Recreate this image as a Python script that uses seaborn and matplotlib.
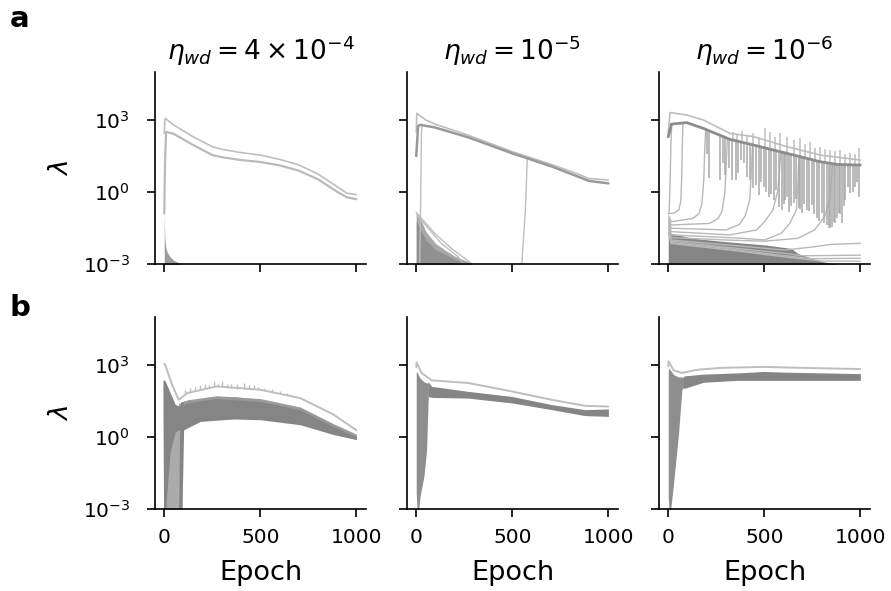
import numpy as np
import pandas as pd
import matplotlib
matplotlib.use('Agg')
import matplotlib.pyplot as plt
import seaborn as sns

# All values are log10(lambda)

# ---- row a, eta_wd = 4e-4 ----
a1_top_ep = [0, 3, 5, 50, 150, 250, 300, 400, 500, 600, 700, 800, 900, 950, 1000]
a1_top = [2.44, 3.0, 3.07, 2.79, 2.30, 1.89, 1.78, 1.64, 1.54, 1.36, 1.13, 0.75, 0.22, -0.05, -0.11]
a1_low_ep = [0, 5, 10, 50, 150, 250, 300, 400, 500, 600, 700, 800, 900, 950, 1000]
a1_low = [-0.9, 1.5, 2.51, 2.42, 1.96, 1.54, 1.45, 1.33, 1.25, 1.11, 0.89, 0.53, 0.01, -0.22, -0.30]
a1_band_ep = [0, 3, 8, 15, 30, 50, 75, 100]
a1_band_hi = [-0.95, -1.9, -2.3, -2.5, -2.7, -2.85, -2.95, -3.05]

# ---- row a, eta_wd = 1e-5 ----
a2_top_ep = [0, 3, 50, 97, 270, 500, 710, 832, 900, 1000]
a2_top = [2.5, 3.28, 3.0, 2.83, 2.37, 1.68, 1.13, 0.78, 0.56, 0.50]
a2_mid_ep = [0, 10, 20, 97, 270, 500, 580, 710, 832, 900, 1000]
a2_mid = [1.5, 2.75, 2.8, 2.69, 2.28, 1.61, 1.40, 1.05, 0.67, 0.46, 0.36]
a2_rise1_ep = [18, 22, 25, 27, 30]
a2_rise1 = [-3.1, -1.0, 1.0, 2.4, 2.78]
a2_rise2_ep = [549, 560, 568, 574, 578]
a2_rise2 = [-3.1, -1.7, -0.75, 0.5, 1.40]
a2_fan1_ep = [0, 96, 183, 270, 300]
a2_fan1 = [-0.85, -1.72, -2.35, -2.87, -3.05]
a2_fan2_ep = [3, 26, 130, 217, 250]
a2_fan2 = [-0.95, -1.17, -2.14, -2.69, -3.05]
a2_band_ep = [0, 25, 50, 100, 150, 200, 270, 300]
a2_band_hi = [-0.9, -1.17, -1.65, -2.14, -2.42, -2.67, -2.9, -3.05]
a2_core_hi = [-1.2, -1.6, -2.0, -2.4, -2.6, -2.8, -2.97, -3.05]

# ---- row a, eta_wd = 1e-6 ----
a3_top_ep = [0, 9, 96, 183, 322, 443, 617, 791, 1000]
a3_top = [2.44, 3.31, 3.21, 3.0, 2.44, 2.31, 1.89, 1.54, 1.33]
a3_main_ep = [0, 17, 96, 183, 322, 443, 617, 791, 878, 1000]
a3_main = [2.3, 2.83, 2.89, 2.65, 2.19, 1.96, 1.61, 1.26, 1.15, 1.12]
a3_band_ep = [0, 3, 15, 128, 302, 510, 640, 675, 745, 800, 850, 900]
a3_band_hi = [-0.9, -1.5, -1.72, -1.93, -2.07, -2.21, -2.35, -2.56, -2.76, -2.9, -2.97, -3.05]
# eigenvalues that leave the bulk and jump up to the top
a3_c1_ep = [0, 5, 10, 14, 18]
a3_c1 = [-0.9, -0.8, 0.5, 2.0, 2.8]
a3_c2_ep = [3, 30, 55, 65, 70, 73, 76]
a3_c2 = [-0.9, -0.88, -0.75, -0.4, 0.5, 1.8, 2.85]
a3_c3_ep = [3, 15, 128, 160, 175, 185, 190, 195]
a3_c3 = [-1.0, -1.24, -1.10, -0.9, -0.5, 0.5, 1.8, 2.62]
a3_c4_ep = [3, 15, 215, 260, 280, 295, 302, 308]
a3_c4 = [-1.1, -1.375, -1.31, -1.1, -0.8, 0.0, 1.2, 2.22]
a3_c5_ep = [3, 15, 302, 370, 400, 424, 432, 438]
a3_c5 = [-1.2, -1.51, -1.58, -1.35, -1.0, -0.33, 0.8, 1.95]
a3_c6_ep = [3, 15, 320, 460, 501, 545, 571, 580, 586]
a3_c6 = [-1.3, -1.65, -1.79, -1.58, -1.24, -0.75, 0.08, 1.0, 1.68]
a3_c7_ep = [3, 15, 389, 501, 588, 632, 667, 675, 680]
a3_c7 = [-1.4, -1.79, -1.93, -2.0, -1.72, -1.31, -0.75, 0.4, 1.48]
a3_c8_ep = [3, 15, 300, 500, 675, 762, 814, 840, 849, 855]
a3_c8 = [-1.5, -1.9, -2.0, -2.05, -1.93, -1.58, -1.03, -0.3, 0.5, 1.18]
a3_f1_ep = [3, 15, 300, 606, 762, 849, 1000]
a3_f1 = [-1.6, -2.0, -2.2, -2.42, -2.28, -2.18, -2.14]
a3_f2_ep = [3, 15, 300, 600, 700, 1000]
a3_f2 = [-1.7, -2.05, -2.3, -2.55, -2.66, -2.63]
a3_f3_ep = [3, 15, 300, 600, 750, 1000]
a3_f3 = [-1.7, -2.1, -2.35, -2.65, -2.78, -2.76]
a3_f4_ep = [3, 15, 300, 600, 800, 1000]
a3_f4 = [-1.8, -2.15, -2.4, -2.7, -2.88, -2.88]
# downward spikes from the top cluster
a3_dn_ep = [200, 212, 270, 283, 296, 318, 330, 353, 365, 377, 395, 409, 425, 443, 456, 470, 483,
            496, 509, 522, 535, 548, 561, 574, 591, 600, 609, 617, 626, 639, 652, 665, 678, 687,
            696, 709, 722, 735, 748, 761, 774, 787, 800, 813, 826, 835, 843, 852, 861, 870, 878,
            887, 895, 904, 913, 922, 935, 948, 961, 974, 983, 991]
a3_dn_top = [2.62, 2.58, 2.35, 2.3, 2.27, 2.21, 2.18, 2.12, 2.1, 2.09, 2.05, 2.02, 2.0, 1.96, 1.94, 1.91, 1.88,
             1.85, 1.83, 1.80, 1.79, 1.75, 1.74, 1.69, 1.66, 1.67, 1.62, 1.61, 1.59, 1.57, 1.54, 1.52, 1.49, 1.48,
             1.45, 1.44, 1.40, 1.38, 1.35, 1.33, 1.29, 1.27, 1.25, 1.23, 1.21, 1.2, 1.19, 1.18, 1.17, 1.16, 1.15,
             1.15, 1.14, 1.14, 1.14, 1.14, 1.13, 1.13, 1.13, 1.13, 1.12, 1.12]
a3_dn_bot = [1.6, 0.6, 0.5, 1.2, 0.71, 1.0, 0.5, 0.5, 0.8, 1.33, 1.2, 0.64, 0.5, 0.15, 0.3, -0.125, 0.4,
             0.22, 0.0, -0.19, -0.1, -0.33, 0.1, -0.61, -0.75, -0.5, -0.33, -0.2, -0.82, -0.6, -0.47, -0.3, -0.68, -0.7,
             -0.89, -0.5, -0.75, -0.8, -0.54, -0.9, -1.10, -1.2, -0.89, -1.3, -1.375, -1.5, -1.51, -1.45, -1.24, -1.3, -1.1,
             -0.89, -0.9, -1.30, -0.6, -0.33, 0.2, -0.05, 0.0, 0.22, 0.4, -0.19]
# upward spikes of the noisy top eigenvalue
a3_up_ep = [339, 360, 383, 410, 443, 470, 504, 530, 555, 583, 617, 652, 687, 713, 739, 765, 791, 817, 843, 870, 896, 922, 948, 970, 991]
a3_up_top = [2.51, 2.4, 2.56, 2.38, 2.44, 2.3, 2.65, 2.51, 2.3, 2.44, 2.31, 2.17, 2.24, 2.0, 2.10, 1.85, 1.89, 1.8, 1.75, 1.7, 1.75, 1.6, 1.61, 1.6, 1.82]
a3_up_bot = [2.17, 2.12, 2.08, 2.02, 1.96, 1.91, 1.84, 1.79, 1.74, 1.68, 1.61, 1.54, 1.47, 1.42, 1.36, 1.31, 1.26, 1.22, 1.19, 1.16, 1.15, 1.14, 1.13, 1.13, 1.12]

# ---- row b, eta_wd = 4e-4 ----
b1_top_ep = [0, 5, 40, 75, 120, 274, 500, 708, 882, 1000]
b1_top = [3.05, 3.01, 2.2, 1.55, 1.83, 2.11, 1.97, 1.62, 0.93, 0.28]
b1_up_ep = [110, 135, 160, 185, 210, 235, 257, 280, 300, 325, 350, 380, 413, 440, 465, 490, 520, 560, 600, 640]
b1_up_lo = [1.78, 1.85, 1.92, 1.97, 2.02, 2.07, 2.1, 2.1, 2.08, 2.06, 2.04, 2.02, 2.0, 1.99, 1.98, 1.97, 1.95, 1.88, 1.82, 1.74]
b1_up_hi = [1.95, 2.05, 2.08, 2.15, 2.22, 2.18, 2.32, 2.2, 2.32, 2.22, 2.2, 2.2, 2.25, 2.15, 2.18, 2.1, 2.05, 2.0, 1.92, 1.85]
b1_band_ep = [75, 90, 120, 274, 500, 708, 882, 1000]
b1_band_hi = [1.42, 1.40, 1.55, 1.72, 1.60, 1.25, 0.55, 0.12]
b1_band_lo_ep = [84, 92, 101, 188, 361, 500, 708, 882, 1000]
b1_band_lo = [-3.2, -3.2, 0.30, 0.65, 0.75, 0.72, 0.51, 0.10, -0.11]
b1_band_top = [1.45, 1.45, 1.5, 1.58, 1.68, 1.56, 1.22, 0.52, 0.08]
b1_early_ep = [0, 5, 31, 57, 75, 92]
b1_early_hi = [2.3, 2.32, 1.83, 1.35, 1.3, 1.4]
b1_early_lo = [-3.2, -3.2, -3.2, -3.2, -3.2, -3.2]
b1_early_dark_lo = [-3.2, -3.2, -0.6, 0.2, 0.3, 0.3]

# ---- row b, eta_wd = 1e-5 ----
b2_top_ep = [0, 2, 28, 80, 271, 497, 705, 878, 1000]
b2_top = [2.9, 3.11, 2.67, 2.36, 2.25, 1.90, 1.55, 1.30, 1.27]
b2_band_ep = [62, 80, 271, 497, 705, 878, 1000]
b2_band_hi = [2.3, 2.11, 1.90, 1.69, 1.35, 1.14, 1.17]
b2_band_lo = [1.69, 1.65, 1.62, 1.42, 1.14, 0.89, 0.86]
b2_early_ep = [0, 5, 10, 20, 40, 54, 60, 63]
b2_early_hi = [2.72, 2.7, 2.6, 2.46, 2.3, 2.25, 2.25, 2.3]
b2_early_lo = [-2.3, -3.2, -3.2, -2.47, -1.64, -0.53, 1.0, 1.69]

# ---- row b, eta_wd = 1e-6 ----
b3_top_ep = [0, 2, 28, 71, 150, 271, 497, 705, 1000]
b3_top = [2.95, 3.15, 2.78, 2.67, 2.8, 2.88, 2.92, 2.88, 2.83]
b3_band_ep = [80, 89, 184, 358, 497, 618, 1000]
b3_band_hi = [2.53, 2.55, 2.62, 2.67, 2.73, 2.70, 2.64]
b3_band_lo = [2.04, 2.04, 2.28, 2.36, 2.36, 2.36, 2.36]
b3_early_ep = [0, 5, 10, 28, 54, 71, 80, 89]
b3_early_hi = [2.75, 2.88, 2.8, 2.6, 2.5, 2.5, 2.5, 2.5]
b3_early_lo = [-2.5, -3.2, -3.2, -1.92, 0.17, 1.97, 2.06, 2.04]

titles = [r'$\eta_{wd} = 4 \times 10^{-4}$', r'$\eta_{wd} = 10^{-5}$', r'$\eta_{wd} = 10^{-6}$']
yticks = [1e-3, 1e0, 1e3]
xticks = [0, 500, 1000]

LIGHT = '#bebebe'
MID = '#a8a8a8'
DARK = '#858585'


def lines_df(curves):
    rows = []
    for i, (ep, val) in enumerate(curves):
        for e, v in zip(ep, val):
            rows.append({'line': i, 'epoch': e, 'lam': 10.0 ** v})
    return pd.DataFrame(rows)


def draw_lines(ax, curves, color, lw):
    df = lines_df(curves)
    sns.lineplot(data=df, x='epoch', y='lam', units='line', estimator=None,
                 color=color, lw=lw, ax=ax, legend=False, sort=False)


def band(ax, ep, lo, hi, color):
    ax.fill_between(ep, 10.0 ** np.asarray(lo), 10.0 ** np.asarray(hi), color=color, lw=0)


def spikes(ax, ep, lo, hi, color, lw):
    ax.vlines(ep, 10.0 ** np.asarray(lo), 10.0 ** np.asarray(hi), color=color, lw=lw)


sns.set_style('ticks', rc={'axes.edgecolor': 'black', 'xtick.color': 'black', 'ytick.color': 'black',
                           'text.color': 'black', 'axes.labelcolor': 'black'})
plt.rcParams['font.family'] = ['DejaVu Sans']

fig = plt.figure(figsize=(8.91, 5.91), dpi=100)
W, H = 891, 591
col_px = [155, 407, 659]
row_px = [72, 317]
axes = [[fig.add_axes([c / W, 1 - (r + 192) / H, 211 / W, 192 / H]) for c in col_px] for r in row_px]

# panel a1
ax = axes[0][0]
band(ax, a1_band_ep, [-4] * len(a1_band_ep), a1_band_hi, '#9c9c9c')
draw_lines(ax, [(a1_top_ep, a1_top)], LIGHT, 1.2)
draw_lines(ax, [(a1_low_ep, a1_low)], '#bababa', 1.6)

# panel a2
ax = axes[0][1]
band(ax, a2_band_ep, [-4] * len(a2_band_ep), a2_band_hi, '#a8a8a8')
band(ax, a2_band_ep, [-4] * len(a2_band_ep), a2_core_hi, '#909090')
draw_lines(ax, [(a2_fan1_ep, a2_fan1), (a2_fan2_ep, a2_fan2)], LIGHT, 1.0)
draw_lines(ax, [(a2_rise1_ep, a2_rise1), (a2_rise2_ep, a2_rise2)], LIGHT, 1.0)
draw_lines(ax, [(a2_top_ep, a2_top)], LIGHT, 1.2)
draw_lines(ax, [(a2_mid_ep, a2_mid)], '#999999', 1.8)

# panel a3
ax = axes[0][2]
band(ax, a3_band_ep, [-4] * len(a3_band_ep), a3_band_hi, DARK)
draw_lines(ax, [(a3_c1_ep, a3_c1), (a3_c2_ep, a3_c2), (a3_c3_ep, a3_c3), (a3_c4_ep, a3_c4),
                (a3_c5_ep, a3_c5), (a3_c6_ep, a3_c6), (a3_c7_ep, a3_c7), (a3_c8_ep, a3_c8),
                (a3_f1_ep, a3_f1), (a3_f2_ep, a3_f2), (a3_f3_ep, a3_f3), (a3_f4_ep, a3_f4)],
           '#b8b8b8', 1.0)
spikes(ax, a3_up_ep, a3_up_bot, a3_up_top, LIGHT, 1.1)
spikes(ax, a3_dn_ep, a3_dn_bot, a3_dn_top, MID, 1.1)
draw_lines(ax, [(a3_top_ep, a3_top)], LIGHT, 1.2)
draw_lines(ax, [(a3_main_ep, a3_main)], '#8c8c8c', 2.0)

# panel b1
ax = axes[1][0]
band(ax, b1_early_ep, b1_early_lo, b1_early_hi, '#ababab')
band(ax, b1_early_ep, b1_early_dark_lo, b1_early_hi, DARK)
band(ax, b1_band_lo_ep, b1_band_lo, b1_band_top, DARK)
band(ax, b1_band_ep, [b - 0.12 for b in b1_band_hi], b1_band_hi, '#9a9a9a')
draw_lines(ax, [([2, 4, 6], [2.3, -1.0, -3.3]), ([84, 89, 94], [-3.3, 0.0, 1.4])], DARK, 1.8)
spikes(ax, b1_up_ep, b1_up_lo, b1_up_hi, LIGHT, 1.0)
draw_lines(ax, [(b1_top_ep, b1_top)], LIGHT, 1.4)

# panel b2
ax = axes[1][1]
band(ax, b2_early_ep, b2_early_lo, b2_early_hi, '#8e8e8e')
band(ax, b2_band_ep, b2_band_lo, b2_band_hi, DARK)
draw_lines(ax, [(b2_top_ep, b2_top)], LIGHT, 1.4)

# panel b3
ax = axes[1][2]
band(ax, b3_early_ep, b3_early_lo, b3_early_hi, '#8e8e8e')
band(ax, b3_band_ep, b3_band_lo, b3_band_hi, DARK)
draw_lines(ax, [(b3_top_ep, b3_top)], LIGHT, 1.4)

for r in range(2):
    for c in range(3):
        ax = axes[r][c]
        ax.set_yscale('log')
        ax.set_ylim(1e-3, 1e5)
        ax.set_xlim(-48, 1050)
        ax.set_yticks(yticks)
        ax.yaxis.set_minor_locator(matplotlib.ticker.NullLocator())
        ax.set_xticks(xticks)
        ax.tick_params(axis='both', labelsize=14.5, length=6, width=1.2)
        ax.tick_params(axis='x', pad=8)
        ax.tick_params(axis='y', pad=12)
        for s in ['left', 'bottom']:
            ax.spines[s].set_linewidth(1.2)
        sns.despine(ax=ax)
        ax.set_xlabel('')
        ax.set_ylabel('')
        if c > 0:
            ax.set_yticklabels([])
        else:
            ax.set_ylabel(r'$\lambda$', fontsize=19, labelpad=6)
        if r == 0:
            ax.set_xticklabels([])
            ax.set_title(titles[c], fontsize=19, pad=9)
        else:
            ax.set_xlabel('Epoch', fontsize=19.5, labelpad=9)

fig.text(0.011, 0.992, 'a', fontsize=21, fontweight='bold', va='top')
fig.text(0.011, 0.503, 'b', fontsize=21, fontweight='bold', va='top')

fig.savefig('out.png', dpi=100)
